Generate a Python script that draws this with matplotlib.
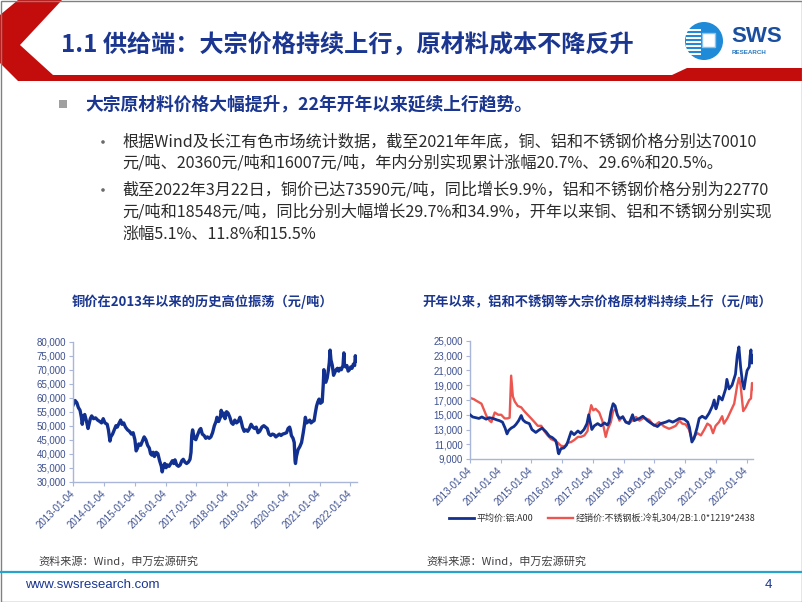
import matplotlib
matplotlib.use("Agg")
import matplotlib.pyplot as plt
from matplotlib.patches import Polygon, Circle, Rectangle
import pandas as pd

plt.rcParams['font.family'] = ['Noto Sans CJK SC', 'DejaVu Sans']

# ---- data ----
cu_dates = ["2013-01-04", "2013-01-25", "2013-02-15", "2013-03-05", "2013-03-25", "2013-04-10", "2013-04-20",
            "2013-05-05", "2013-05-20", "2013-06-10", "2013-06-28", "2013-07-10", "2013-07-25", "2013-08-10",
            "2013-09-01", "2013-09-25", "2013-10-20", "2013-11-15", "2013-12-05", "2013-12-25", "2014-01-15",
            "2014-02-10", "2014-02-25", "2014-03-15", "2014-03-25", "2014-04-15", "2014-05-05", "2014-05-25",
            "2014-06-10", "2014-06-25", "2014-07-20", "2014-08-05", "2014-08-25", "2014-09-15", "2014-10-10",
            "2014-11-01", "2014-11-25", "2014-12-15", "2015-01-05", "2015-01-20", "2015-02-05", "2015-02-20",
            "2015-03-15", "2015-04-05", "2015-04-25", "2015-05-15", "2015-06-05", "2015-06-25", "2015-07-10",
            "2015-07-25", "2015-08-10", "2015-08-25", "2015-09-15", "2015-10-05", "2015-10-25", "2015-11-15",
            "2015-11-25", "2015-12-10", "2015-12-25", "2016-01-10", "2016-01-25", "2016-02-15", "2016-03-05",
            "2016-03-25", "2016-04-10", "2016-04-25", "2016-05-15", "2016-06-05", "2016-06-25", "2016-07-15",
            "2016-08-01", "2016-08-20", "2016-09-10", "2016-10-01", "2016-10-20", "2016-11-01", "2016-11-10",
            "2016-11-20", "2016-12-10", "2016-12-28", "2017-01-15", "2017-02-10", "2017-02-25", "2017-03-15",
            "2017-04-05", "2017-04-25", "2017-05-15", "2017-06-05", "2017-06-25", "2017-07-15", "2017-08-05",
            "2017-08-25", "2017-09-05", "2017-09-25", "2017-10-15", "2017-10-25", "2017-11-10", "2017-11-25",
            "2017-12-10", "2017-12-28", "2018-01-15", "2018-02-05", "2018-02-25", "2018-03-15", "2018-04-05",
            "2018-04-25", "2018-05-15", "2018-06-05", "2018-06-20", "2018-07-05", "2018-07-25", "2018-08-15",
            "2018-09-05", "2018-09-25", "2018-10-15", "2018-11-05", "2018-11-25", "2018-12-15", "2019-01-05",
            "2019-01-25", "2019-02-20", "2019-03-15", "2019-04-05", "2019-04-25", "2019-05-15", "2019-06-05",
            "2019-06-25", "2019-07-15", "2019-08-05", "2019-08-25", "2019-09-15", "2019-10-05", "2019-10-25",
            "2019-11-15", "2019-12-10", "2019-12-28", "2020-01-15", "2020-01-25", "2020-02-05", "2020-02-25",
            "2020-03-10", "2020-03-20", "2020-03-25", "2020-04-05", "2020-04-25", "2020-05-15", "2020-06-05",
            "2020-06-25", "2020-07-10", "2020-07-20", "2020-08-05", "2020-08-25", "2020-09-10", "2020-09-25",
            "2020-10-15", "2020-11-01", "2020-11-15", "2020-11-30", "2020-12-15", "2020-12-30", "2021-01-15",
            "2021-02-05", "2021-02-18", "2021-02-25", "2021-03-05", "2021-03-20", "2021-04-05", "2021-04-20",
            "2021-04-30", "2021-05-10", "2021-05-20", "2021-06-05", "2021-06-20", "2021-07-05", "2021-07-20",
            "2021-08-05", "2021-08-20", "2021-09-05", "2021-09-20", "2021-10-10", "2021-10-20", "2021-10-28",
            "2021-11-10", "2021-11-25", "2021-12-10", "2021-12-25", "2022-01-10", "2022-01-25", "2022-02-10",
            "2022-02-25", "2022-03-05", "2022-03-15", "2022-03-22"]
cu_price = [57500, 59000, 58200, 56500, 55500, 53000, 50500, 53500, 54000, 51500, 49000, 50500, 52500, 53500,
            52500, 52800, 52000, 51500, 51000, 52500, 51000, 50500, 48500, 44500, 46000, 47000, 48500, 50000,
            49500, 50500, 52000, 50500, 51000, 49500, 48500, 48000, 47000, 47500, 45000, 41000, 42000, 43500,
            43000, 44500, 46000, 45000, 43000, 42000, 40000, 39500, 40500, 39000, 40500, 40000, 37500, 35500,
            33500, 35500, 36500, 35000, 36000, 35500, 36500, 37500, 36500, 37800, 36000, 35500, 36000, 37500,
            38000, 37000, 36500, 37000, 38000, 40500, 46500, 48500, 45500, 45000, 46500, 48500, 49000, 47000,
            46500, 45500, 46000, 45500, 46000, 47500, 50000, 51500, 53000, 51500, 53000, 55500, 53500, 54500,
            52500, 55000, 54500, 53000, 51000, 50500, 52000, 51000, 51500, 53000, 51500, 49500, 48000, 48500,
            48000, 49000, 50500, 49500, 49000, 49500, 47500, 48000, 49500, 50000, 49500, 49000, 47000, 46500,
            47000, 46800, 46000, 46500, 47000, 46500, 47000, 47200, 47500, 49000, 49500, 48500, 46500, 45500,
            44000, 37500, 36500, 39000, 41500, 42500, 44000, 47500, 50500, 53000, 51000, 51500, 52000, 51000,
            51500, 51800, 54500, 57000, 58500, 59500, 58000, 58500, 65000, 70000, 66000, 65500, 67000, 70000,
            72500, 77000, 73500, 71500, 68000, 69000, 70000, 70500, 69500, 70500, 70000, 71500, 76000, 71500,
            71000, 71500, 69500, 70000, 71000, 70500, 72000, 71500, 75000, 73000, 73600]

al_dates = ["2013-01-04", "2013-02-05", "2013-03-15", "2013-04-20", "2013-05-25", "2013-07-15", "2013-08-20",
            "2013-10-05", "2013-11-20", "2013-12-20", "2014-01-25", "2014-02-25", "2014-03-20", "2014-04-10",
            "2014-05-10", "2014-06-10", "2014-07-05", "2014-08-05", "2014-09-05", "2014-09-25", "2014-10-25",
            "2014-12-10", "2015-01-10", "2015-02-25", "2015-04-01", "2015-05-10", "2015-06-25", "2015-08-05",
            "2015-09-10", "2015-10-20", "2015-11-05", "2015-11-18", "2015-11-25", "2015-12-20", "2016-01-25",
            "2016-02-25", "2016-03-10", "2016-04-20", "2016-05-25", "2016-07-10", "2016-08-10", "2016-09-20",
            "2016-10-25", "2016-11-15", "2016-12-22", "2017-01-20", "2017-03-01", "2017-04-10", "2017-05-20",
            "2017-06-25", "2017-07-15", "2017-08-05", "2017-09-01", "2017-09-25", "2017-10-20", "2017-11-15",
            "2017-12-25", "2018-01-30", "2018-03-10", "2018-04-20", "2018-05-10", "2018-07-10", "2018-08-20",
            "2018-10-15", "2018-12-15", "2019-02-10", "2019-03-20", "2019-05-20", "2019-06-28", "2019-08-10",
            "2019-09-15", "2019-10-28", "2019-12-25", "2020-02-05", "2020-02-25", "2020-03-25", "2020-04-20",
            "2020-05-25", "2020-06-20", "2020-07-25", "2020-09-05", "2020-10-15", "2020-11-25", "2020-12-15",
            "2021-01-05", "2021-01-25", "2021-02-10", "2021-03-20", "2021-04-30", "2021-05-15", "2021-06-10",
            "2021-07-15", "2021-08-25", "2021-09-15", "2021-10-05", "2021-10-25", "2021-11-15", "2021-12-05",
            "2021-12-25", "2022-01-10", "2022-02-05", "2022-02-15", "2022-02-25", "2022-03-08", "2022-03-15",
            "2022-03-22"]
al_price = [15000, 14700, 14600, 14500, 14700, 14400, 14600, 14500, 14300, 14200, 14000, 13200, 12400, 12900,
            13200, 13400, 13700, 14200, 14900, 14300, 14000, 13800, 13000, 12600, 12900, 13200, 12700, 12100,
            11900, 11500, 10800, 9900, 9700, 10400, 10500, 10900, 11300, 12700, 12300, 12800, 12500, 13000,
            13800, 15000, 13000, 13500, 13800, 13500, 13900, 13600, 14000, 15400, 16500, 16200, 15000, 14500,
            14700, 14000, 13800, 15000, 14200, 14500, 14800, 14200, 13700, 13400, 13800, 14000, 14200, 14000,
            14200, 14500, 14400, 14000, 13300, 11300, 11800, 13200, 14500, 14800, 14500, 15200, 16200, 17000,
            15800, 16500, 17500, 17000, 18500, 19800, 18500, 19000, 20500, 23000, 24200, 21500, 19500, 18500,
            20000, 21000, 21500, 23000, 23800, 22000, 23000, 22800]

ss_dates = ["2013-01-04", "2013-02-20", "2013-03-20", "2013-05-20", "2013-06-25", "2013-07-20", "2013-08-25",
            "2013-09-15", "2013-10-25", "2013-12-05", "2014-01-10", "2014-02-20", "2014-03-25", "2014-04-20",
            "2014-05-08", "2014-05-28", "2014-06-20", "2014-07-25", "2014-09-05", "2014-10-10", "2014-11-20",
            "2015-01-01", "2015-02-10", "2015-03-20", "2015-05-01", "2015-06-05", "2015-07-15", "2015-08-25",
            "2015-10-05", "2015-11-15", "2015-12-20", "2016-02-01", "2016-03-10", "2016-04-20", "2016-05-30",
            "2016-07-10", "2016-08-15", "2016-09-25", "2016-11-01", "2016-11-20", "2016-12-15", "2017-01-08",
            "2017-02-05", "2017-03-20", "2017-04-25", "2017-06-05", "2017-06-28", "2017-08-05", "2017-09-01",
            "2017-10-05", "2017-10-22", "2017-11-15", "2017-12-25", "2018-01-30", "2018-03-28", "2018-05-30",
            "2018-07-10", "2018-09-05", "2018-11-05", "2019-01-01", "2019-03-01", "2019-05-01", "2019-06-28",
            "2019-08-10", "2019-09-15", "2019-10-28", "2019-12-01", "2020-01-10", "2020-02-20", "2020-03-25",
            "2020-04-20", "2020-05-30", "2020-07-10", "2020-08-20", "2020-09-25", "2020-11-01", "2020-12-01",
            "2021-01-01", "2021-02-10", "2021-03-20", "2021-04-10", "2021-05-20", "2021-06-30", "2021-08-10",
            "2021-09-15", "2021-10-05", "2021-10-25", "2021-11-25", "2021-12-25", "2022-02-05", "2022-02-25",
            "2022-03-10", "2022-03-22"]
ss_price = [17300, 17100, 16900, 16500, 15500, 14800, 14200, 14000, 15300, 15000, 15000, 14500, 14500, 14600,
            20300, 17500, 16800, 16200, 16000, 15500, 15000, 14500, 14000, 13500, 13500, 12800, 12200, 11700,
            11500, 11200, 10800, 10700, 11200, 11300, 11600, 12000, 12000, 12200, 12800, 15000, 16300, 15600,
            15800, 15300, 14200, 12000, 13000, 14000, 15500, 15800, 15000, 14200, 14800, 14000, 14000, 14700,
            14200, 14600, 14300, 13500, 14000, 13400, 13100, 13300, 13500, 14200, 13800, 13700, 13000, 11600,
            12000, 12500, 12200, 13000, 13800, 13500, 12500, 13500, 14000, 14800, 13800, 14500, 15500, 16500,
            19000, 20000, 19000, 15500, 16000, 17000, 17200, 19300, 18500]

tick_years = [2013, 2014, 2015, 2016, 2017, 2018, 2019, 2020, 2021, 2022]
al_label = "平均价:铝:A00"
ss_label = "经销价:不锈钢板:冷轧304/2B:1.0*1219*2438"

NAVY = "#1a3690"
LINE_BLUE = "#12308f"
LINE_RED = "#eb5650"
RED = "#c30d0d"
SPINE = "#a9b6d8"
TICKC = "#3d5090"

fig = plt.figure(figsize=(8.02, 6.02), dpi=100)
fig.patch.set_facecolor("white")

# overlay in pixel coordinates for slide decorations
bg = fig.add_axes([0, 0, 1, 1])
bg.set_xlim(0, 802)
bg.set_ylim(602, 0)
bg.axis("off")

bg.add_patch(Polygon([(18, 0), (62, 0), (20, 45), (53, 75), (672, 75), (687, 68), (802, 68),
                      (802, 81), (18, 81), (0, 63), (0, 15)], closed=True, color=RED, lw=0))
bg.add_patch(Rectangle((0.5, 0.5), 801, 601, fill=False, edgecolor="#808080", lw=1))

bg.text(61, 45, "1.1 供给端：大宗价格持续上行，原材料成本不降反升", fontsize=17.4, color=NAVY,
        va="center", ha="left", fontweight="bold")

# logo
bg.add_patch(Circle((704, 41), 19, color="#1e8ad8", lw=0))
for yy in [29, 33, 37, 41, 45, 49, 53]:
    bg.add_patch(Rectangle((686, yy), 15, 1.6, color="white", lw=0))
bg.add_patch(Rectangle((702, 33), 13, 14, facecolor="white", edgecolor="#8cc4ee", lw=1))
bg.text(731, 36, "SWS", fontsize=16, fontweight="bold", color="#1a4fa0", va="center",
        family="Liberation Sans")
bg.text(732, 52, "RESEARCH", fontsize=4.5, fontweight="bold", color="#2a7ac0", va="center",
        family="Liberation Sans")

# bullets
bg.add_patch(Rectangle((59, 100), 8, 8, color="#a0a0a0", lw=0))
bg.text(85, 104, "大宗原材料价格大幅提升，22年开年以来延续上行趋势。", fontsize=12.8, color=NAVY,
        fontweight="bold", va="center")
lines = [
    (142, "根据Wind及长江有色市场统计数据，截至2021年年底，铜、铝和不锈钢价格分别达70010", True),
    (163, "元/吨、20360元/吨和16007元/吨，年内分别实现累计涨幅20.7%、29.6%和20.5%。", False),
    (190, "截至2022年3月22日，铜价已达73590元/吨，同比增长9.9%，铝和不锈钢价格分别为22770", True),
    (212, "元/吨和18548元/吨，同比分别大幅增长29.7%和34.9%，开年以来铜、铝和不锈钢分别实现", False),
    (234, "涨幅5.1%、11.8%和15.5%", False),
]
for yy, txt, dot in lines:
    if dot:
        bg.add_patch(Circle((103, yy), 1.8, color="#6a6a6a", lw=0))
    bg.text(122, yy, txt, fontsize=11.6, color="#2b2b2b", va="center")

# chart titles
bg.text(203, 302, "铜价在2013年以来的历史高位振荡（元/吨）", fontsize=9.5, fontweight="bold",
        color=NAVY, ha="center", va="center")
bg.text(597, 302, "开年以来，铝和不锈钢等大宗价格原材料持续上行（元/吨）", fontsize=9.5,
        fontweight="bold", color=NAVY, ha="center", va="center")

# sources and footer
bg.text(38, 561, "资料来源：Wind，申万宏源研究", fontsize=8, color="#404040", va="center")
bg.text(426, 561, "资料来源：Wind，申万宏源研究", fontsize=8, color="#404040", va="center")
bg.plot([1, 801], [572, 572], color="#27a3cc", lw=1.6)
bg.text(25, 585, "www.swsresearch.com", fontsize=9.5, color=NAVY, va="center", family="Liberation Sans")
bg.text(765, 585, "4", fontsize=9.5, color=NAVY, va="center", family="Liberation Sans")

x0 = pd.Timestamp("2013-01-04")
x1 = pd.Timestamp("2022-03-25")
tick_pos = pd.to_datetime([f"{y}-01-04" for y in tick_years])
tick_lab = [f"{y}-01-04" for y in tick_years]


def style(ax, yticks):
    for s in ["top", "right"]:
        ax.spines[s].set_visible(False)
    for s in ["left", "bottom"]:
        ax.spines[s].set_color(SPINE)
        ax.spines[s].set_linewidth(1)
    ax.set_xlim(x0, x1)
    ax.set_yticks(yticks)
    ax.set_yticklabels([f"{v:,}" for v in yticks], family="Liberation Sans", fontsize=7, color=TICKC)
    ax.set_xticks(tick_pos)
    ax.set_xticklabels(tick_lab, rotation=45, ha="right", va="center", rotation_mode="anchor",
                       family="Liberation Sans", fontsize=7, color=TICKC)
    ax.tick_params(axis="both", length=3, width=0.8, color=SPINE, pad=2)
    ax.tick_params(axis="x", pad=4)
    ax.patch.set_alpha(0)


ax1 = fig.add_axes([73.3 / 802, 1 - 481.7 / 602, (357 - 73.3) / 802, 140 / 602])
ax1.plot(pd.to_datetime(cu_dates), cu_price, color=LINE_BLUE, lw=2.4)
ax1.set_ylim(30000, 80000)
style(ax1, list(range(30000, 80001, 5000)))

ax2 = fig.add_axes([470 / 802, 1 - 459 / 602, (753.3 - 470) / 802, 118 / 602])
h1, = ax2.plot(pd.to_datetime(al_dates), al_price, color=LINE_BLUE, lw=2.0, zorder=3)
h2, = ax2.plot(pd.to_datetime(ss_dates), ss_price, color=LINE_RED, lw=1.7, zorder=2)
ax2.set_ylim(9000, 25000)
style(ax2, list(range(9000, 25001, 2000)))

fig.legend([h1, h2], [al_label, ss_label], loc="center", bbox_to_anchor=(602 / 802, 1 - 518 / 602),
           ncol=2, frameon=False, fontsize=6.5, handlelength=2.8, columnspacing=1.6, handletextpad=0.3,
           labelcolor="#333333")

fig.savefig("out.png", dpi=100)
